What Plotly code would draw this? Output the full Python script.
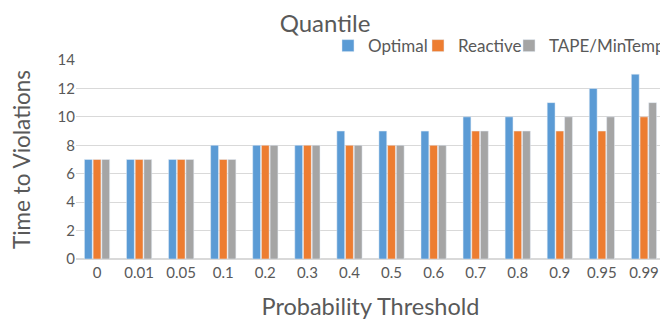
import plotly.graph_objects as go

categories = ["0", "0.01", "0.05", "0.1", "0.2", "0.3", "0.4", "0.5", "0.6", "0.7", "0.8", "0.9", "0.95", "0.99"]
optimal = [7, 7, 7, 8, 8, 8, 9, 9, 9, 10, 10, 11, 12, 13]
reactive = [7, 7, 7, 7, 8, 8, 8, 8, 8, 9, 9, 9, 9, 10]
tape = [7, 7, 7, 7, 8, 8, 8, 8, 8, 9, 9, 10, 10, 11]

series_names = ["Optimal", "Reactive", "TAPE/MinTemp"]
series_values = [optimal, reactive, tape]
series_colors = ["#5B9BD5", "#ED7D31", "#A5A5A5"]

FONT = "Lato, Carlito, 'Open Sans', sans-serif"
GREY = "#595959"

legend_ids = ["legend", "legend2", "legend3"]
legend_x = [0.4278, 0.5806, 0.7351]

fig = go.Figure()
for name, vals, col, lid in zip(series_names, series_values, series_colors, legend_ids):
    fig.add_trace(go.Bar(name=name, x=categories, y=vals, marker_color=col, legend=lid))

legend_common = dict(orientation="h", xanchor="left", y=1.07, yanchor="middle",
                     font=dict(size=17, color=GREY), bgcolor="rgba(0,0,0,0)",
                     itemwidth=30)

# The page body adds an 8px offset, so the figure is 8px smaller than the window.
fig.update_layout(
    width=660, height=312,
    margin=dict(l=68, r=3, t=52, b=61, autoexpand=False),
    paper_bgcolor="white", plot_bgcolor="white",
    font=dict(family=FONT, color=GREY, size=15),
    title=dict(text="Quantile", x=0.4803, xanchor="center", y=0.9487, yanchor="middle",
               font=dict(size=24, color=GREY, family=FONT)),
    barmode="group", bargap=0.38, bargroupgap=0.1,
    showlegend=True,
    legend=dict(x=legend_x[0], **legend_common),
    legend2=dict(x=legend_x[1], **legend_common),
    legend3=dict(x=legend_x[2], **legend_common),
    xaxis=dict(title=dict(text="Probability Threshold", font=dict(size=23.5, color=GREY), standoff=19),
               automargin=False,
               showgrid=False, showline=True, linecolor="#d9d9d9", linewidth=1,
               tickfont=dict(size=15, color=GREY), ticks=""),
    yaxis=dict(title=dict(text="Time to Violations", font=dict(size=22.5, color=GREY), standoff=35),
               automargin=False,
               range=[0, 14], dtick=2, showgrid=True, gridcolor="#d9d9d9", gridwidth=1,
               zeroline=True, zerolinecolor="#d9d9d9", showline=False,
               tickfont=dict(size=15, color=GREY), ticks=""),
)

fig.write_html("out.html")
